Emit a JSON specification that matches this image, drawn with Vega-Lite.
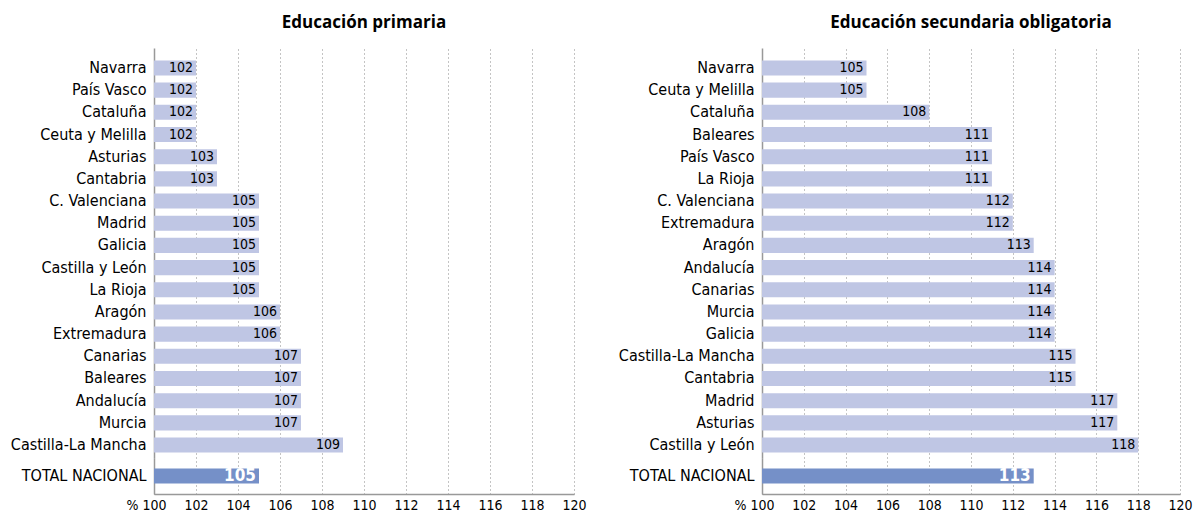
{
  "$schema": "https://vega.github.io/schema/vega-lite/v6.json",
  "padding": {"left": 10, "top": 14, "right": 5, "bottom": 0},
  "datasets": {
    "d": [
      {"panel": "primaria", "region": "Navarra", "value": 102, "total": 0},
      {"panel": "primaria", "region": "País Vasco", "value": 102, "total": 0},
      {"panel": "primaria", "region": "Cataluña", "value": 102, "total": 0},
      {"panel": "primaria", "region": "Ceuta y Melilla", "value": 102, "total": 0},
      {"panel": "primaria", "region": "Asturias", "value": 103, "total": 0},
      {"panel": "primaria", "region": "Cantabria", "value": 103, "total": 0},
      {"panel": "primaria", "region": "C. Valenciana", "value": 105, "total": 0},
      {"panel": "primaria", "region": "Madrid", "value": 105, "total": 0},
      {"panel": "primaria", "region": "Galicia", "value": 105, "total": 0},
      {"panel": "primaria", "region": "Castilla y León", "value": 105, "total": 0},
      {"panel": "primaria", "region": "La Rioja", "value": 105, "total": 0},
      {"panel": "primaria", "region": "Aragón", "value": 106, "total": 0},
      {"panel": "primaria", "region": "Extremadura", "value": 106, "total": 0},
      {"panel": "primaria", "region": "Canarias", "value": 107, "total": 0},
      {"panel": "primaria", "region": "Baleares", "value": 107, "total": 0},
      {"panel": "primaria", "region": "Andalucía", "value": 107, "total": 0},
      {"panel": "primaria", "region": "Murcia", "value": 107, "total": 0},
      {"panel": "primaria", "region": "Castilla-La Mancha", "value": 109, "total": 0},
      {"panel": "primaria", "region": "TOTAL NACIONAL", "value": 105, "total": 1},
      {"panel": "secundaria", "region": "Navarra", "value": 105, "total": 0},
      {"panel": "secundaria", "region": "Ceuta y Melilla", "value": 105, "total": 0},
      {"panel": "secundaria", "region": "Cataluña", "value": 108, "total": 0},
      {"panel": "secundaria", "region": "Baleares", "value": 111, "total": 0},
      {"panel": "secundaria", "region": "País Vasco", "value": 111, "total": 0},
      {"panel": "secundaria", "region": "La Rioja", "value": 111, "total": 0},
      {"panel": "secundaria", "region": "C. Valenciana", "value": 112, "total": 0},
      {"panel": "secundaria", "region": "Extremadura", "value": 112, "total": 0},
      {"panel": "secundaria", "region": "Aragón", "value": 113, "total": 0},
      {"panel": "secundaria", "region": "Andalucía", "value": 114, "total": 0},
      {"panel": "secundaria", "region": "Canarias", "value": 114, "total": 0},
      {"panel": "secundaria", "region": "Murcia", "value": 114, "total": 0},
      {"panel": "secundaria", "region": "Galicia", "value": 114, "total": 0},
      {"panel": "secundaria", "region": "Castilla-La Mancha", "value": 115, "total": 0},
      {"panel": "secundaria", "region": "Cantabria", "value": 115, "total": 0},
      {"panel": "secundaria", "region": "Madrid", "value": 117, "total": 0},
      {"panel": "secundaria", "region": "Asturias", "value": 117, "total": 0},
      {"panel": "secundaria", "region": "Castilla y León", "value": 118, "total": 0},
      {"panel": "secundaria", "region": "TOTAL NACIONAL", "value": 113, "total": 1}
    ]
  },
  "config": {
    "view": {"stroke": null},
    "font": "DejaVu Sans Condensed",
    "axis": {"labelFont": "DejaVu Sans Condensed", "labelColor": "#000", "domainColor": "#999", "domainWidth": 1.5, "ticks": false, "title": null},
    "axisY": {"labelFontSize": 16, "labelPadding": 8, "labelLimit": 300},
    "axisX": {"labelFontSize": 14, "labelPadding": 4, "labelFlush": false, "gridColor": "#888", "gridDash": [1, 3], "gridWidth": 1, "values": [100, 102, 104, 106, 108, 110, 112, 114, 116, 118, 120]},
    "title": {"font": "Open Sans", "fontSize": 17, "fontWeight": "bold", "color": "#000", "anchor": "middle", "frame": "group", "offset": 16},
    "concat": {"spacing": 31}
  },
  "spacing": 31,
  "hconcat": [
    {
      "spacing": 0,
      "resolve": {"scale": {"x": "independent", "y": "independent"}},
      "vconcat": [
        {
          "width": 420, "height": 410,
          "title": "Educación primaria",
          "data": {"name": "d"},
          "transform": [{"filter": "datum.panel == 'primaria' && datum.total == 0"}],
          "encoding": {
            "y": {"field": "region", "type": "nominal", "sort": null, "scale": {"paddingInner": 0.32, "paddingOuter": 0.4025, "align": 0.696}},
            "x": {"field": "value", "type": "quantitative", "scale": {"domain": [100, 120]}, "axis": {"grid": true, "labels": false, "domain": false}}
          },
          "layer": [
            {"mark": {"type": "bar", "color": "#bfc6e4"}, "encoding": {"x2": {"datum": 100}}},
            {"mark": {"type": "text", "align": "right", "dx": -3, "fontSize": 14, "color": "#000", "font": "DejaVu Sans Condensed"}, "encoding": {"text": {"field": "value", "type": "quantitative"}}}
          ]
        },
        {
          "width": 420, "height": 36,
          "data": {"name": "d"},
          "transform": [{"filter": "datum.panel == 'primaria' && datum.total == 1"}],
          "encoding": {
            "y": {"field": "region", "type": "nominal", "sort": null, "scale": {"paddingInner": 0.5, "paddingOuter": 0.35}},
            "x": {"field": "value", "type": "quantitative", "scale": {"domain": [100, 120]}, "axis": {"grid": true, "labels": true, "domain": true, "labelExpr": "datum.value == 100 ? '% 100' : datum.label", "labelAlign": {"condition": {"test": "datum.value == 100", "value": "right"}, "value": "center"}, "labelOffset": {"condition": {"test": "datum.value == 100", "value": 12}, "value": 0}}}
          },
          "layer": [
            {"mark": {"type": "bar", "color": "#7590c8"}, "encoding": {"x2": {"datum": 100}}},
            {"mark": {"type": "text", "align": "right", "dx": -3, "fontSize": 17, "fontWeight": "bold", "color": "#fff", "font": "DejaVu Sans Condensed"}, "encoding": {"text": {"field": "value", "type": "quantitative"}}}
          ]
        }
      ]
    },
    {
      "spacing": 0,
      "resolve": {"scale": {"x": "independent", "y": "independent"}},
      "vconcat": [
        {
          "width": 418, "height": 410,
          "title": "Educación secundaria obligatoria",
          "data": {"name": "d"},
          "transform": [{"filter": "datum.panel == 'secundaria' && datum.total == 0"}],
          "encoding": {
            "y": {"field": "region", "type": "nominal", "sort": null, "scale": {"paddingInner": 0.32, "paddingOuter": 0.4025, "align": 0.696}},
            "x": {"field": "value", "type": "quantitative", "scale": {"domain": [100, 120]}, "axis": {"grid": true, "labels": false, "domain": false}}
          },
          "layer": [
            {"mark": {"type": "bar", "color": "#bfc6e4"}, "encoding": {"x2": {"datum": 100}}},
            {"mark": {"type": "text", "align": "right", "dx": -3, "fontSize": 14, "color": "#000", "font": "DejaVu Sans Condensed"}, "encoding": {"text": {"field": "value", "type": "quantitative"}}}
          ]
        },
        {
          "width": 418, "height": 36,
          "data": {"name": "d"},
          "transform": [{"filter": "datum.panel == 'secundaria' && datum.total == 1"}],
          "encoding": {
            "y": {"field": "region", "type": "nominal", "sort": null, "scale": {"paddingInner": 0.5, "paddingOuter": 0.35}},
            "x": {"field": "value", "type": "quantitative", "scale": {"domain": [100, 120]}, "axis": {"grid": true, "labels": true, "domain": true, "labelExpr": "datum.value == 100 ? '% 100' : datum.label", "labelAlign": {"condition": {"test": "datum.value == 100", "value": "right"}, "value": "center"}, "labelOffset": {"condition": {"test": "datum.value == 100", "value": 12}, "value": 0}}}
          },
          "layer": [
            {"mark": {"type": "bar", "color": "#7590c8"}, "encoding": {"x2": {"datum": 100}}},
            {"mark": {"type": "text", "align": "right", "dx": -3, "fontSize": 17, "fontWeight": "bold", "color": "#fff", "font": "DejaVu Sans Condensed"}, "encoding": {"text": {"field": "value", "type": "quantitative"}}}
          ]
        }
      ]
    }
  ]
}
